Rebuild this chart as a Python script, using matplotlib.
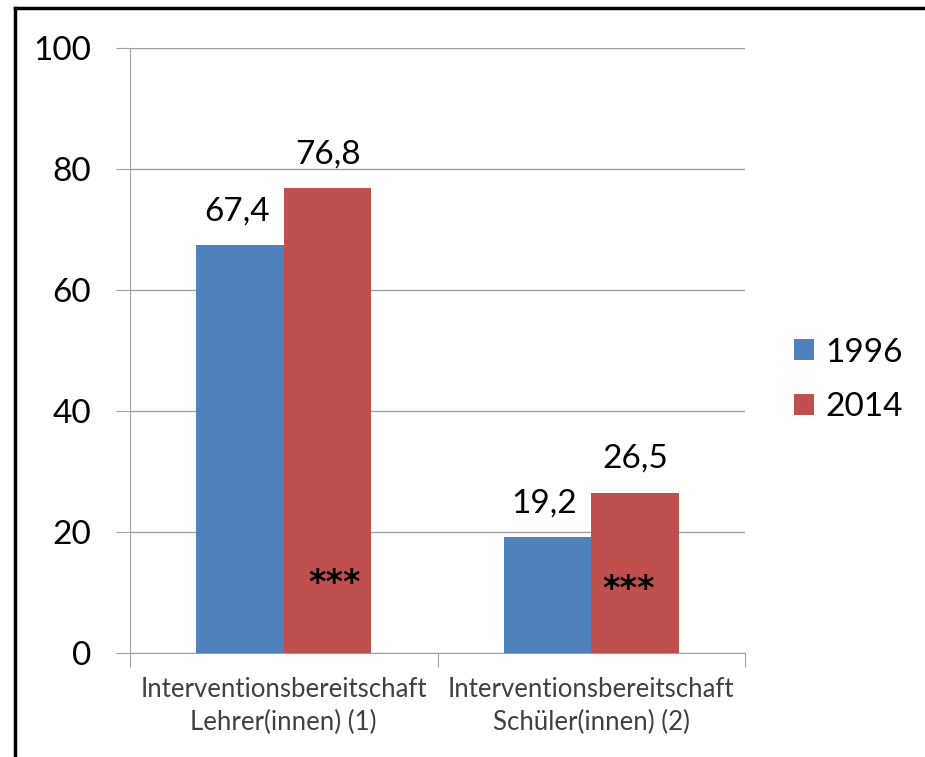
import matplotlib
matplotlib.use("Agg")
import matplotlib.pyplot as plt
from matplotlib.lines import Line2D
import numpy as np

plt.rcParams["font.family"] = ["Lato", "DejaVu Sans"]

categories = ["Interventionsbereitschaft\nLehrer(innen) (1)",
              "Interventionsbereitschaft\nSchüler(innen) (2)"]
years = ["1996", "2014"]
values_1996 = [67.4, 19.2]
values_2014 = [76.8, 26.5]
labels_1996 = ["67,4", "19,2"]
labels_2014 = ["76,8", "26,5"]
sig_marks = ["***", "***"]
sig_y = [11.5, 10.5]
sig_dx = [0.023, -0.02]

blue = "#4f81bd"
red = "#c0504d"

W, H = 925, 757
fig = plt.figure(figsize=(W / 100, H / 100), dpi=100)
ax = fig.add_axes([130 / W, 1 - 653 / H, (745 - 130) / W, (653 - 48) / H])

x = np.arange(len(categories))
bw = 0.285
ax.bar(x - bw / 2, values_1996, bw, color=blue, label=years[0], zorder=3)
ax.bar(x + bw / 2, values_2014, bw, color=red, label=years[1], zorder=3)

for i in range(len(categories)):
    ax.text(x[i] - bw / 2 - 0.01, values_1996[i] + 4.1, labels_1996[i],
            ha="center", va="baseline", fontsize=24)
    ax.text(x[i] + bw / 2, values_2014[i] + 4.1, labels_2014[i],
            ha="center", va="baseline", fontsize=24)
    ax.text(x[i] + bw / 2 + sig_dx[i], sig_y[i], sig_marks[i], ha="center",
            va="center", fontsize=24, fontweight="bold", family="DejaVu Sans")

ax.set_xlim(-0.5, 1.5)
ax.set_ylim(0, 100)
ax.set_yticks([0, 20, 40, 60, 80, 100])
ax.tick_params(axis="y", labelsize=24, length=10, color="#a0a0a0", pad=18)
ax.set_xticks([-0.5, 0.5, 1.5])
ax.set_xticklabels([])
ax.tick_params(axis="x", length=10, color="#a0a0a0")
ax.set_xticks(x, minor=True)
ax.set_xticklabels(categories, minor=True, fontsize=18.5, color="#404040",
                   linespacing=1.4)
ax.tick_params(axis="x", which="minor", length=0, pad=17)
ax.grid(axis="y", color="#a0a0a0", linewidth=1, zorder=0)
for s in ["top", "right"]:
    ax.spines[s].set_visible(False)
for s in ["left", "bottom"]:
    ax.spines[s].set_color("#a0a0a0")

ax.legend(loc="center left", bbox_to_anchor=(764 / W, 1 - 380 / H),
          bbox_transform=fig.transFigure, frameon=False, fontsize=24,
          handlelength=0.6, handleheight=0.6, handletextpad=0.35,
          labelspacing=0.75)

# outer frame (left and top edges visible in the crop)
fig.add_artist(Line2D([15 / W, 15 / W], [0, 1 - 8 / H], color="black",
                      linewidth=2.5, transform=fig.transFigure))
fig.add_artist(Line2D([15 / W, 1], [1 - 8 / H, 1 - 8 / H], color="black",
                      linewidth=2.5, transform=fig.transFigure))

fig.savefig("out.png", dpi=100)
